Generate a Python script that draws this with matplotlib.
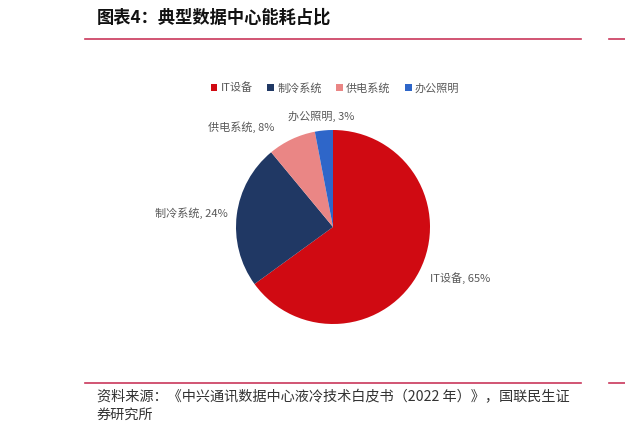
import matplotlib
matplotlib.use('Agg')

import matplotlib.pyplot as plt
from matplotlib.patches import Patch
from matplotlib.lines import Line2D

plt.rcParams['font.family'] = ['Noto Sans CJK SC', 'DejaVu Sans']

categories = ['IT设备', '制冷系统', '供电系统', '办公照明']
shares = [65, 24, 8, 3]
colors = ['#D00A12', '#203864', '#EA8685', '#2E66C9']

W, H = 625, 433
fig = plt.figure(figsize=(W / 100, H / 100), dpi=100)

# 标题和分隔线
fig.text(97 / W, 1 - 18 / H, '图表4：典型数据中心能耗占比', fontsize=12.4,
         fontweight='bold', va='center', ha='left', color='#111111')
for y in (39, 383):
    fig.add_artist(Line2D([85 / W, 581 / W], [1 - y / H, 1 - y / H],
                          color='#C9375B', lw=1.2))
    fig.add_artist(Line2D([609 / W, 1.0], [1 - y / H, 1 - y / H],
                          color='#C9375B', lw=1.2))

# 饼图
r_px, half = 97, 160
cx, cy = 333, 227
ax = fig.add_axes([(cx - half) / W, (H - cy - half) / H, 2 * half / W, 2 * half / H])
labels = [f'{c}, {v}%' for c, v in zip(categories, shares)]
wedges, texts = ax.pie(shares, colors=colors, startangle=90, counterclock=False,
                       radius=1.0, labels=labels, labeldistance=1.15,
                       textprops=dict(fontsize=8, color='#595959'))
ax.set_xlim(-half / r_px, half / r_px)
ax.set_ylim(-half / r_px, half / r_px)
ax.set_aspect('equal')
ax.axis('off')

# 标签位置微调
texts[0].set_position((1.0, -0.53))
texts[1].set_position((-1.09, 0.14))
texts[2].set_position((-0.6, 1.03))
texts[3].set_position((-0.12, 1.14))
texts[3].set_ha('center')

# 图例
handles = [Patch(facecolor=c, edgecolor='none') for c in colors]
fig.legend(handles, categories, loc='center', bbox_to_anchor=(335 / W, 1 - 88 / H),
           ncol=4, frameon=False, fontsize=8, handlelength=0.6, handleheight=0.6,
           handletextpad=0.3, columnspacing=1.3, labelcolor='#595959')

# 资料来源
fig.text(97 / W, 1 - 397 / H,
         '资料来源：《中兴通讯数据中心液冷技术白皮书（2022 年）》，国联民生证',
         fontsize=10.2, va='center', ha='left', color='#333333')
fig.text(97 / W, 1 - 415 / H, '券研究所', fontsize=10.2, va='center', ha='left',
         color='#333333')

fig.savefig('out.png', dpi=100)
